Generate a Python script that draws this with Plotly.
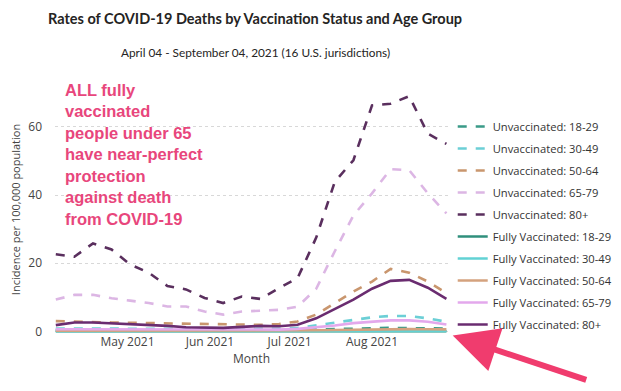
import plotly.graph_objects as go
import pandas as pd

weeks = pd.date_range("2021-04-04", periods=22, freq="7D")

series_names = [
    "Unvaccinated: 18-29", "Unvaccinated: 30-49", "Unvaccinated: 50-64",
    "Unvaccinated: 65-79", "Unvaccinated: 80+",
    "Fully Vaccinated: 18-29", "Fully Vaccinated: 30-49", "Fully Vaccinated: 50-64",
    "Fully Vaccinated: 65-79", "Fully Vaccinated: 80+",
]

unvax_18_29 = [0.3, 0.3, 0.3, 0.3, 0.3, 0.3, 0.3, 0.2, 0.2, 0.2, 0.2, 0.2, 0.3, 0.4, 0.5, 0.7, 0.8, 0.9, 1.0, 1.0, 0.9, 0.8]
unvax_30_49 = [0.8, 0.8, 0.8, 0.8, 0.7, 0.7, 0.7, 0.6, 0.6, 0.6, 0.6, 0.6, 0.7, 1.0, 1.8, 2.7, 3.4, 4.1, 4.5, 4.5, 3.8, 2.8]
unvax_50_64 = [3.0, 2.8, 2.7, 2.6, 2.5, 2.4, 2.3, 2.2, 2.1, 2.0, 1.9, 1.9, 2.1, 2.9, 4.9, 8.3, 11.7, 14.6, 18.3, 17.2, 14.6, 11.2]
unvax_65_79 = [9.3, 10.7, 10.7, 9.7, 9.0, 8.3, 7.3, 7.3, 5.8, 4.9, 5.8, 6.0, 6.3, 7.2, 12.5, 23.5, 34.0, 40.5, 47.6, 47.3, 40.5, 34.6]
unvax_80p = [22.6, 21.9, 25.8, 24.0, 19.6, 17.2, 13.3, 12.3, 9.8, 8.3, 10.2, 9.5, 12.7, 15.6, 27.5, 43.9, 50.2, 66.3, 66.8, 69.0, 58.0, 55.0]
vax_18_29 = [0.0, 0.0, 0.0, 0.0, 0.0, 0.0, 0.0, 0.0, 0.0, 0.0, 0.0, 0.0, 0.0, 0.0, 0.0, 0.0, 0.0, 0.0, 0.0, 0.0, 0.0, 0.0]
vax_30_49 = [0.05, 0.05, 0.05, 0.05, 0.05, 0.05, 0.05, 0.05, 0.05, 0.05, 0.05, 0.05, 0.05, 0.05, 0.05, 0.1, 0.1, 0.1, 0.1, 0.1, 0.1, 0.1]
vax_50_64 = [0.15, 0.15, 0.15, 0.15, 0.15, 0.15, 0.15, 0.15, 0.15, 0.15, 0.15, 0.15, 0.2, 0.25, 0.3, 0.4, 0.5, 0.6, 0.65, 0.65, 0.6, 0.55]
vax_65_79 = [0.6, 0.6, 0.6, 0.6, 0.5, 0.5, 0.5, 0.4, 0.4, 0.4, 0.4, 0.4, 0.5, 0.7, 1.1, 1.7, 2.4, 2.9, 3.2, 3.2, 2.8, 2.0]
vax_80p = [1.8, 2.6, 2.6, 2.4, 2.2, 1.9, 1.6, 1.2, 1.1, 1.0, 1.3, 1.6, 1.5, 1.9, 3.8, 6.5, 9.3, 12.5, 14.8, 15.1, 12.8, 9.5]

all_values = [unvax_18_29, unvax_30_49, unvax_50_64, unvax_65_79, unvax_80p,
              vax_18_29, vax_30_49, vax_50_64, vax_65_79, vax_80p]
colors = ["#3a9a88", "#6ccfd6", "#c9966e", "#dcb6e4", "#5a2f5e",
          "#2f8f7c", "#62d2d4", "#d4a27e", "#e3a8ec", "#6a2c70"]
dashes = ["dash"] * 5 + ["solid"] * 5

title_text = "Rates of COVID-19 Deaths by Vaccination Status and Age Group"
subtitle_text = "April 04 - September 04, 2021 (16 U.S. jurisdictions)"
note_text = "ALL fully<br>vaccinated<br>people under 65<br>have near-perfect<br>protection<br>against death<br>from COVID-19"

fig = go.Figure()
for name, vals, col, dsh in zip(series_names, all_values, colors, dashes):
    fig.add_trace(go.Scatter(
        x=weeks, y=vals, name=name, mode="lines",
        legendgroup=name,
        line=dict(color=col, dash=dsh, width=2.6),
    ))

font_main = "Open Sans, Noto Sans, DejaVu Sans, sans-serif"

# page body has an 8px margin, so the figure is sized to the visible area
fig.update_layout(
    width=613, height=383,
    margin=dict(l=47, r=173, t=78, b=58, autoexpand=False),
    paper_bgcolor="white", plot_bgcolor="white",
    font=dict(family=font_main, color="#605e5c", size=11),
    showlegend=True,
    legend=dict(
        x=1.012, xanchor="left", y=0.895, yanchor="top",
        font=dict(size=11.2, color="#333333"),
        tracegroupgap=3, itemwidth=30,
        bgcolor="rgba(0,0,0,0)",
    ),
    xaxis=dict(
        range=[weeks[0] - pd.Timedelta(days=0.3), weeks[-1] + pd.Timedelta(days=0.6)],
        tickvals=pd.to_datetime(["2021-05-01", "2021-06-01", "2021-07-01", "2021-08-01"]),
        ticktext=["May 2021", "Jun 2021", "Jul 2021", "Aug 2021"],
        showgrid=False, zeroline=False, showline=False,
        tickfont=dict(size=12, color="#444444"),
        title=dict(text="Month", font=dict(size=12, color="#444444"), standoff=5),
        ticks="",
    ),
    yaxis=dict(
        range=[-0.5, 72], tickvals=[0, 20, 40, 60],
        showgrid=True, gridcolor="#d8d8d8", griddash="dot", gridwidth=1,
        zeroline=False, showline=False, ticks="",
        ticklabelstandoff=12,
        tickfont=dict(size=12, color="#444444"),
        title=dict(text="Incidence per 100,000 population", font=dict(size=11, color="#444444"), standoff=8),
    ),
)

fig.add_annotation(
    text="<b>" + title_text + "</b>", xref="paper", yref="paper",
    x=0.51, y=1.272, xanchor="center", yanchor="middle", showarrow=False,
    font=dict(size=14.5, color="#252423", family="Lato, Open Sans, sans-serif"),
)
fig.add_annotation(
    text=subtitle_text, xref="paper", yref="paper",
    x=0.51, y=1.135, xanchor="center", yanchor="middle", showarrow=False,
    font=dict(size=11.8, color="#252423", family="Lato, Open Sans, sans-serif"),
)
fig.add_annotation(
    text="<b>" + note_text + "</b>", xref="paper", yref="paper",
    x=0.02, y=1.027, xanchor="left", yanchor="top", align="left", showarrow=False,
    font=dict(size=16.5, color="#e8467c", family="Liberation Sans, Arial, sans-serif"),
)
fig.add_annotation(
    text="", xref="paper", yref="paper",
    x=1.012, y=-0.01, ax=135, ay=45,
    showarrow=True, arrowhead=2, arrowsize=1.5, arrowwidth=6, arrowcolor="#f03c6e",
)

fig.write_html("out.html")
